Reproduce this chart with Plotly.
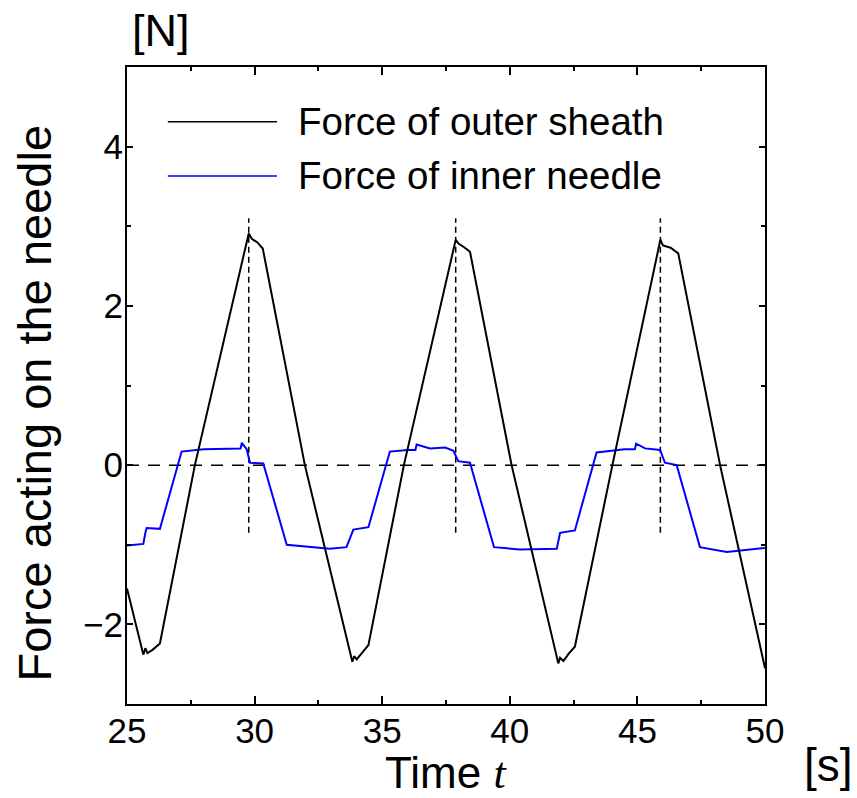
import plotly.graph_objects as go

# ---- data ----
outer_t = [25.0, 25.64, 25.72, 25.8, 26.0, 26.29, 27.66, 29.77, 29.9, 30.1, 30.32,
           31.97, 33.83, 33.9, 34.0, 34.2, 34.46, 35.85, 37.88, 38.0, 38.2, 38.44,
           40.07, 41.9, 41.97, 42.1, 42.3, 42.55, 44.02, 45.9, 46.0, 46.3, 46.6,
           48.24, 50.0]
outer_f = [-1.55, -2.38, -2.30, -2.36, -2.32, -2.24, 0.0, 2.91, 2.84, 2.80, 2.72,
           0.0, -2.47, -2.40, -2.44, -2.36, -2.26, 0.0, 2.83, 2.78, 2.74, 2.68,
           0.0, -2.49, -2.42, -2.46, -2.37, -2.28, 0.0, 2.83, 2.76, 2.73, 2.66,
           0.0, -2.55]

inner_t = [25.0, 25.64, 25.72, 25.77, 26.29, 27.14, 28.0, 29.0, 29.45, 29.5, 29.69,
           29.82, 30.34, 31.26, 32.0, 32.95, 33.6, 33.87, 34.46, 35.3, 36.0, 36.3,
           36.35, 36.87, 37.47, 37.79, 37.98, 38.44, 39.38, 40.4, 41.84, 41.97,
           42.55, 43.4, 44.5, 44.9, 44.95, 45.3, 45.89, 46.08, 46.54, 47.45, 48.5,
           50.0]
inner_f = [-1.01, -0.99, -0.85, -0.79, -0.80, 0.17, 0.20, 0.21, 0.21, 0.28, 0.20,
           0.03, 0.02, -1.00, -1.02, -1.05, -1.03, -0.81, -0.78, 0.17, 0.19, 0.19,
           0.26, 0.21, 0.22, 0.18, 0.05, 0.03, -1.03, -1.06, -1.05, -0.85,
           -0.82, 0.16, 0.20, 0.20, 0.27, 0.21, 0.19, 0.03, 0.00, -1.03, -1.09,
           -1.04]

peak_times = [29.77, 37.88, 45.9]
peak_marker_range = [-0.85, 3.1]
zero_line_t = [25, 50]

x_tickvals = [25, 30, 35, 40, 45, 50]
y_tickvals = [-2, 0, 2, 4]
legend_names = ["Force of outer sheath", "Force of inner needle"]

FONT = "Liberation Sans, Arial, sans-serif"

fig = go.Figure()

# zero reference line
fig.add_trace(go.Scatter(x=zero_line_t, y=[0, 0], mode="lines",
                         line=dict(color="black", width=1.5, dash="12px,9px"),
                         showlegend=False, hoverinfo="skip"))
# vertical dashed lines at peaks
for pt in peak_times:
    fig.add_trace(go.Scatter(x=[pt, pt], y=peak_marker_range, mode="lines",
                             line=dict(color="black", width=1.5, dash="6px,4px"),
                             showlegend=False, hoverinfo="skip"))

fig.add_trace(go.Scatter(x=inner_t, y=inner_f, mode="lines", name=legend_names[1],
                         line=dict(color="#0000ff", width=2), showlegend=False))
fig.add_trace(go.Scatter(x=outer_t, y=outer_f, mode="lines", name=legend_names[0],
                         line=dict(color="black", width=2), showlegend=False))

# manual legend (long line samples like the reference)
leg_colors = ["black", "#0000ff"]
leg_y = [0.914, 0.829]
for name, col, yy in zip(legend_names, leg_colors, leg_y):
    fig.add_shape(type="line", xref="paper", yref="paper", x0=0.064, x1=0.235,
                  y0=yy, y1=yy, line=dict(color=col, width=1.6))
    fig.add_annotation(xref="paper", yref="paper", x=0.265, y=yy, text=name,
                       showarrow=False, xanchor="left", yanchor="middle",
                       font=dict(family=FONT, size=38.5, color="black"))

# axis titles and units
fig.add_annotation(xref="paper", yref="paper", x=-0.145, y=0.4725,
                   text="Force acting on the needle", textangle=-90,
                   showarrow=False, xanchor="center", yanchor="middle",
                   font=dict(family=FONT, size=47, color="black"))
fig.add_annotation(xref="paper", yref="paper", x=0.5, y=-0.109,
                   text="Time <span style=\"font-family:'Liberation Serif', 'Times New Roman', serif\"><i>t</i></span>",
                   showarrow=False, xanchor="center", yanchor="middle",
                   font=dict(family=FONT, size=44, color="black"))
fig.add_annotation(xref="paper", yref="paper", x=0.054, y=1.058, text="[N]",
                   showarrow=False, xanchor="center", yanchor="middle",
                   font=dict(family=FONT, size=45, color="black"))
fig.add_annotation(xref="paper", yref="paper", x=1.1, y=-0.095, text="[s]",
                   showarrow=False, xanchor="center", yanchor="middle",
                   font=dict(family=FONT, size=46, color="black"))

fig.update_layout(
    width=857, height=798,
    margin=dict(l=127, r=92, t=67, b=94),
    paper_bgcolor="white", plot_bgcolor="white",
    font=dict(family=FONT, color="black"),
    xaxis=dict(range=[25, 50], tickvals=x_tickvals, ticks="inside", ticklen=8,
               tickwidth=1.5, tickcolor="black", showline=True, linewidth=2,
               linecolor="black", mirror="ticks", showgrid=False, zeroline=False,
               tickfont=dict(family=FONT, size=35, color="black"),
               minor=dict(dtick=2.5, tick0=25, ticks="inside", ticklen=4,
                          tickwidth=1.5, tickcolor="black", showgrid=False),
               ticklabelstandoff=-5),
    yaxis=dict(range=[-3, 5], tickvals=y_tickvals, ticks="inside", ticklen=6,
               tickwidth=1.5, tickcolor="black", showline=True, linewidth=2,
               linecolor="black", mirror="ticks", showgrid=False, zeroline=False,
               tickfont=dict(family=FONT, size=35, color="black"),
               minor=dict(dtick=1, tick0=-3, ticks="inside", ticklen=4,
                          tickwidth=1.5, tickcolor="black", showgrid=False),
               ticklabelstandoff=-5),
)

# remove the default 8px page margin so the figure fills the window exactly
fig.write_html("out.html", config={"displayModeBar": False},
               post_script="document.body.style.margin='0';document.body.style.overflow='hidden';")
